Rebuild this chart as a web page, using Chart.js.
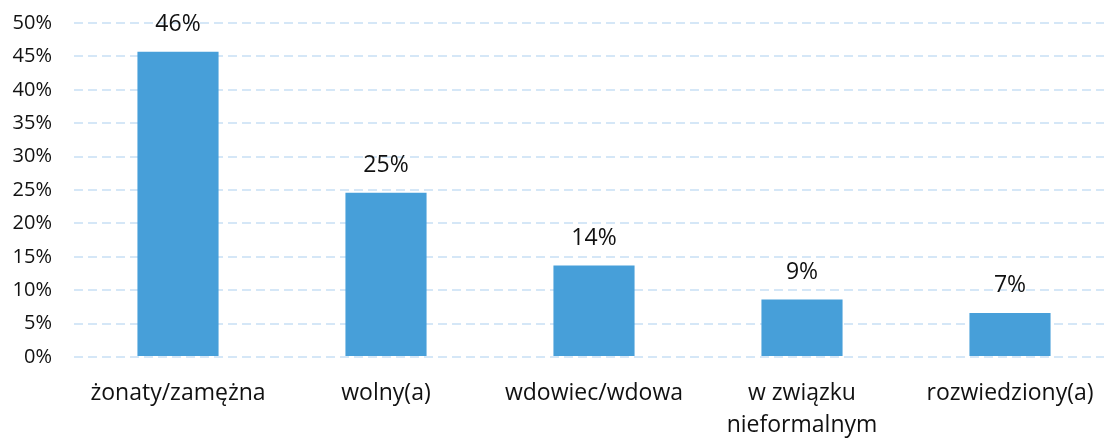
<!DOCTYPE html>
<html>
<head>
<meta charset="utf-8">
<script src="https://cdn.jsdelivr.net/npm/chart.js@4/dist/chart.umd.min.js"></script>
<style>
  html, body { margin: 0; padding: 0; background: #fff; overflow: hidden; }
  #wrap { width: 1114px; height: 438px; }
</style>
</head>
<body>
<div id="wrap"><canvas id="chart_status" width="1114" height="438"></canvas></div>
<script>
var categories = ["żonaty/zamężna", "wolny(a)", "wdowiec/wdowa", ["w związku", "nieformalnym"], "rozwiedziony(a)"];
var values = [45.7, 24.6, 13.7, 8.6, 6.6];
var yTicks = [0, 5, 10, 15, 20, 25, 30, 35, 40, 45, 50];

var textColor = "#111111";
var font = "'Open Sans', sans-serif";

// draws the percentage above each bar
var valueLabels = {
    id: "valueLabels",
    afterDatasetsDraw: function(chart) {
        var ctx = chart.ctx;
        var meta = chart.getDatasetMeta(0);
        ctx.save();
        ctx.fillStyle = textColor;
        ctx.font = "23px " + font;
        ctx.textAlign = "center";
        ctx.textBaseline = "middle";
        meta.data.forEach(function(bar, i) {
            ctx.fillText(Math.round(values[i]) + "%", bar.x, bar.y - 27.5);
        });
        ctx.restore();
    }
};

var ctx = document.getElementById("chart_status").getContext("2d");
var chart = new Chart(ctx, {
    type: "bar",
    data: {
        labels: categories,
        datasets: [{
            data: values,
            backgroundColor: "#479fd9",
            borderWidth: 0,
            categoryPercentage: 1,
            barPercentage: 0.39
        }]
    },
    options: {
        responsive: false,
        animation: false,
        layout: { padding: { top: 23, left: 0, right: 0, bottom: 0 } },
        plugins: {
            legend: { display: false },
            tooltip: { enabled: false }
        },
        scales: {
            x: {
                grid: { display: false, drawTicks: false },
                border: { display: false },
                ticks: {
                    color: textColor,
                    font: { family: font, size: 23, lineHeight: 1.4 },
                    padding: 20,
                    maxRotation: 0,
                    autoSkip: false
                },
                afterFit: function(scale) { scale.height = 81; }
            },
            y: {
                min: 0,
                max: 50,
                afterBuildTicks: function(scale) {
                    scale.ticks = yTicks.map(function(v) { return { value: v }; });
                },
                grid: {
                    color: "#d5e7f7",
                    lineWidth: 2,
                    drawTicks: false
                },
                border: { display: false, dash: [9, 5] },
                ticks: {
                    color: textColor,
                    font: { family: font, size: 20 },
                    padding: 22,
                    callback: function(v) { return v + "%"; }
                },
                afterFit: function(scale) {
                    scale.width = 74;
                    scale.paddingTop = 0;
                    scale.paddingBottom = 0;
                }
            }
        }
    },
    plugins: [valueLabels]
});
</script>
</body>
</html>
